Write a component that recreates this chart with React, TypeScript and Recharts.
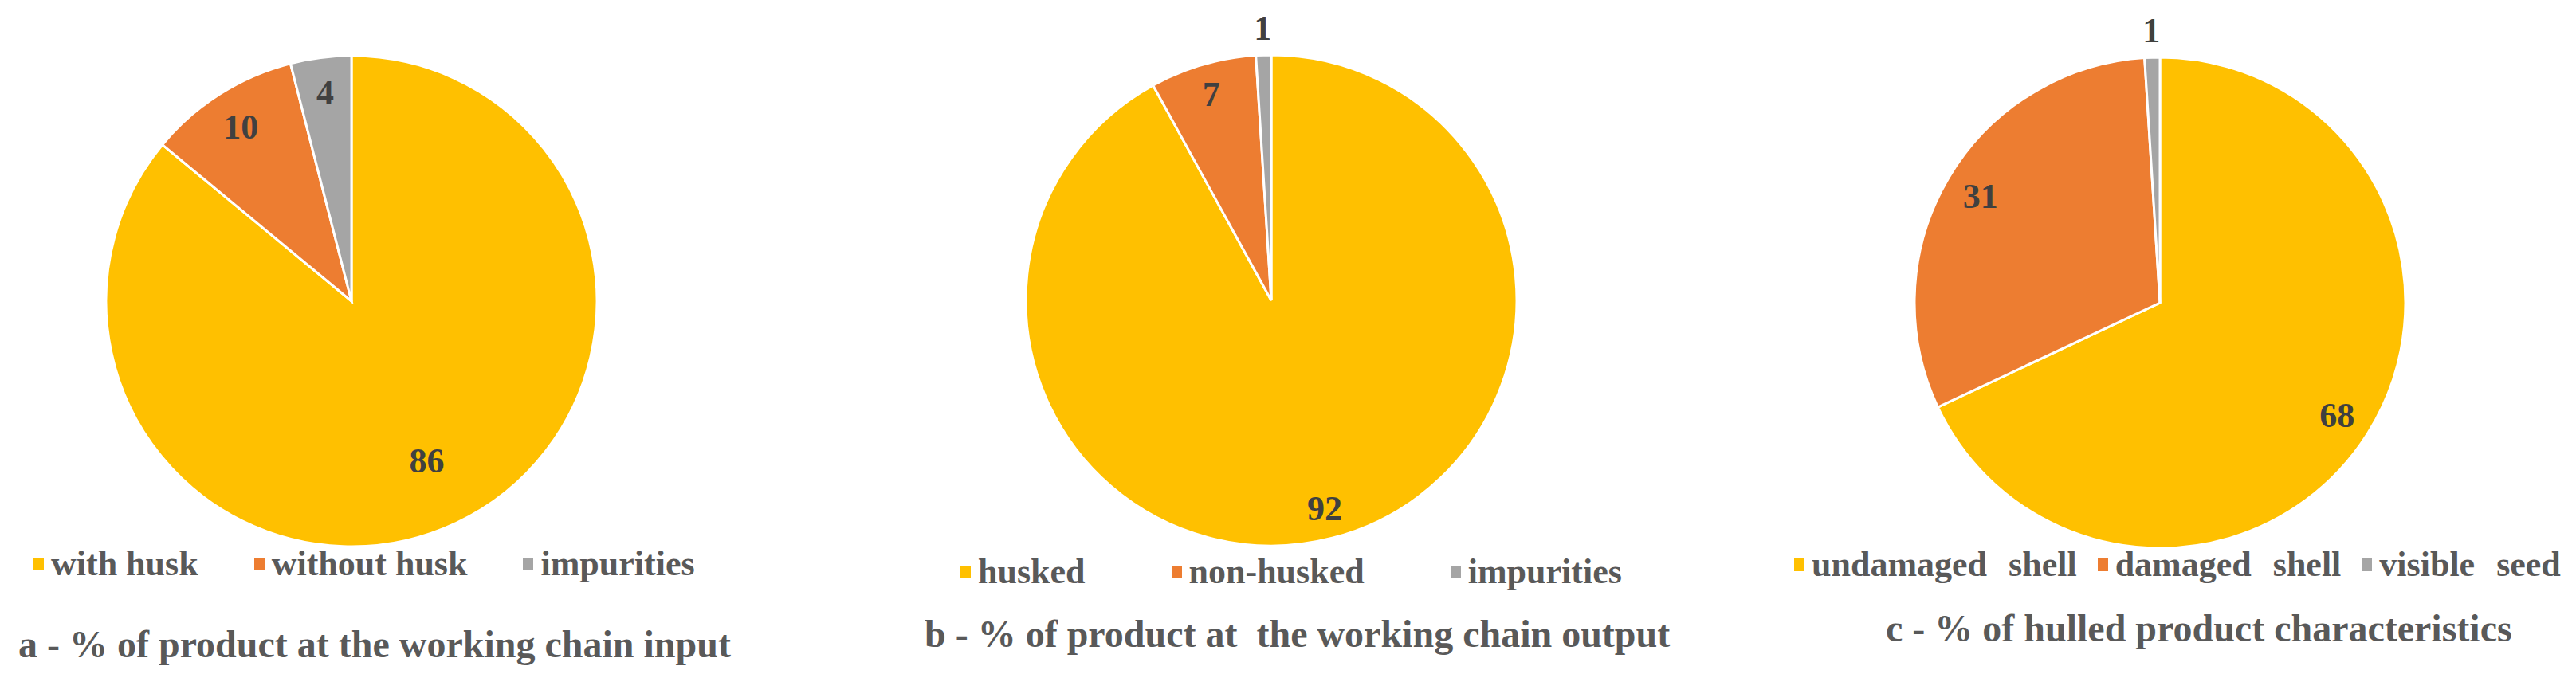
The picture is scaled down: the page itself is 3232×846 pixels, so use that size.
import { PieChart, Pie, Cell, Legend } from "recharts";

const COLORS = ["#FFC000", "#ED7D31", "#A5A5A5"];
const FONT = '"Liberation Serif", "Times New Roman", serif';

// a - input
const INPUT_NAMES = ["with husk", "without husk", "impurities"];
const INPUT_VALUES = [86, 10, 4];
// b - output
const OUTPUT_NAMES = ["husked", "non-husked", "impurities"];
const OUTPUT_VALUES = [92, 7, 1];
// c - hulled product
const HULLED_NAMES = ["undamaged shell", "damaged shell", "visible seed"];
const HULLED_VALUES = [68, 31, 1];

const TITLES = [
  "a - % of product at the working chain input",
  "b - % of product at  the working chain output",
  "c - % of hulled product characteristics",
];

const toRows = (names: string[], values: number[]) =>
  names.map((name, i) => ({ name, value: values[i] }));

// layout for each panel (page coords)
const PANELS = [
  {
    names: INPUT_NAMES,
    rows: toRows(INPUT_NAMES, INPUT_VALUES),
    left: 0,
    width: 1077,
    cx: 441,
    cy: 378,
    labelFrac: [0.72, 0.84, 0.855],
    legendX: 42,
    legendY: 708,
    legendGap: 70,
    wordSpacing: 0,
    titleX: 23,
    titleBaseline: 825,
  },
  {
    names: OUTPUT_NAMES,
    rows: toRows(OUTPUT_NAMES, OUTPUT_VALUES),
    left: 1077,
    width: 1077,
    cx: 1595,
    cy: 377,
    labelFrac: [0.875, 0.875, 1.11],
    legendX: 1205,
    legendY: 718,
    legendGap: 108,
    wordSpacing: 0,
    titleX: 1160,
    titleBaseline: 812,
  },
  {
    names: HULLED_NAMES,
    rows: toRows(HULLED_NAMES, HULLED_VALUES),
    left: 2154,
    width: 1078,
    cx: 2710,
    cy: 380,
    labelFrac: [0.855, 0.85, 1.11],
    legendX: 2251,
    legendY: 709,
    legendGap: 26,
    wordSpacing: 16,
    titleX: 2366,
    titleBaseline: 805,
  },
];

const RADIUS = 308;
const RAD = Math.PI / 180;

function makeLabel(fracs: number[]) {
  return (props: any) => {
    const { cx, cy, midAngle, outerRadius, index, value } = props;
    const r = outerRadius * fracs[index];
    const x = cx + r * Math.cos(-midAngle * RAD);
    const y = cy + r * Math.sin(-midAngle * RAD);
    return (
      <text
        x={x}
        y={y}
        textAnchor="middle"
        dominantBaseline="central"
        fill="#404040"
        fontSize={44}
        fontWeight={700}
        fontFamily={FONT}
      >
        {value}
      </text>
    );
  };
}

function makeLegend(names: string[], gap: number, wordSpacing: number) {
  return (props: any) => {
    // keep the data order, recharts sorts legend items by name
    const payload = (props.payload || [])
      .slice()
      .sort((a: any, b: any) => names.indexOf(a.value) - names.indexOf(b.value));
    return (
      <div
        style={{
          display: "flex",
          alignItems: "center",
          whiteSpace: "nowrap",
          fontFamily: FONT,
          fontWeight: 700,
          fontSize: 44,
          lineHeight: "50px",
          color: "#595959",
        }}
      >
        {payload.map((p: any, i: number) => (
          <div
            key={p.value}
            style={{
              display: "flex",
              alignItems: "center",
              marginRight: i < payload.length - 1 ? gap : 0,
            }}
          >
            <span
              style={{
                display: "inline-block",
                width: 13,
                height: 16,
                marginRight: 9,
                background: p.color || COLORS[i % COLORS.length],
              }}
            />
            <span style={{ wordSpacing }}>{p.value}</span>
          </div>
        ))}
      </div>
    );
  };
}

export default function App() {
  return (
    <div
      style={{
        position: "absolute",
        left: 0,
        top: 0,
        width: 3232,
        height: 846,
        background: "#fff",
        overflow: "hidden",
      }}
    >
      {PANELS.map((p, k) => (
        <div
          key={k}
          style={{ position: "absolute", left: p.left, top: 0, width: p.width, height: 846 }}
        >
          <PieChart
            width={p.width}
            height={846}
            margin={{ top: 0, right: 0, bottom: 0, left: 0 }}
          >
            <Pie
              data={p.rows}
              dataKey="value"
              nameKey="name"
              cx={p.cx - p.left}
              cy={p.cy}
              outerRadius={RADIUS}
              startAngle={90}
              endAngle={-270}
              stroke="#ffffff"
              strokeWidth={3}
              label={makeLabel(p.labelFrac)}
              labelLine={false}
              isAnimationActive={false}
            >
              {p.rows.map((_, i) => (
                <Cell key={i} fill={COLORS[i % COLORS.length]} />
              ))}
            </Pie>
            <Legend
              content={makeLegend(p.names, p.legendGap, p.wordSpacing)}
              wrapperStyle={{
                left: p.legendX - p.left,
                top: p.legendY - 25,
                width: "auto",
                bottom: "auto",
              }}
            />
          </PieChart>
        </div>
      ))}

      {/* captions under each pie */}
      {PANELS.map((p, k) => (
        <div
          key={"t" + k}
          style={{
            position: "absolute",
            left: p.titleX,
            top: p.titleBaseline - 40,
            fontFamily: FONT,
            fontWeight: 700,
            fontSize: 48,
            lineHeight: "48px",
            color: "#595959",
            whiteSpace: "pre",
          }}
        >
          {TITLES[k]}
        </div>
      ))}
    </div>
  );
}
